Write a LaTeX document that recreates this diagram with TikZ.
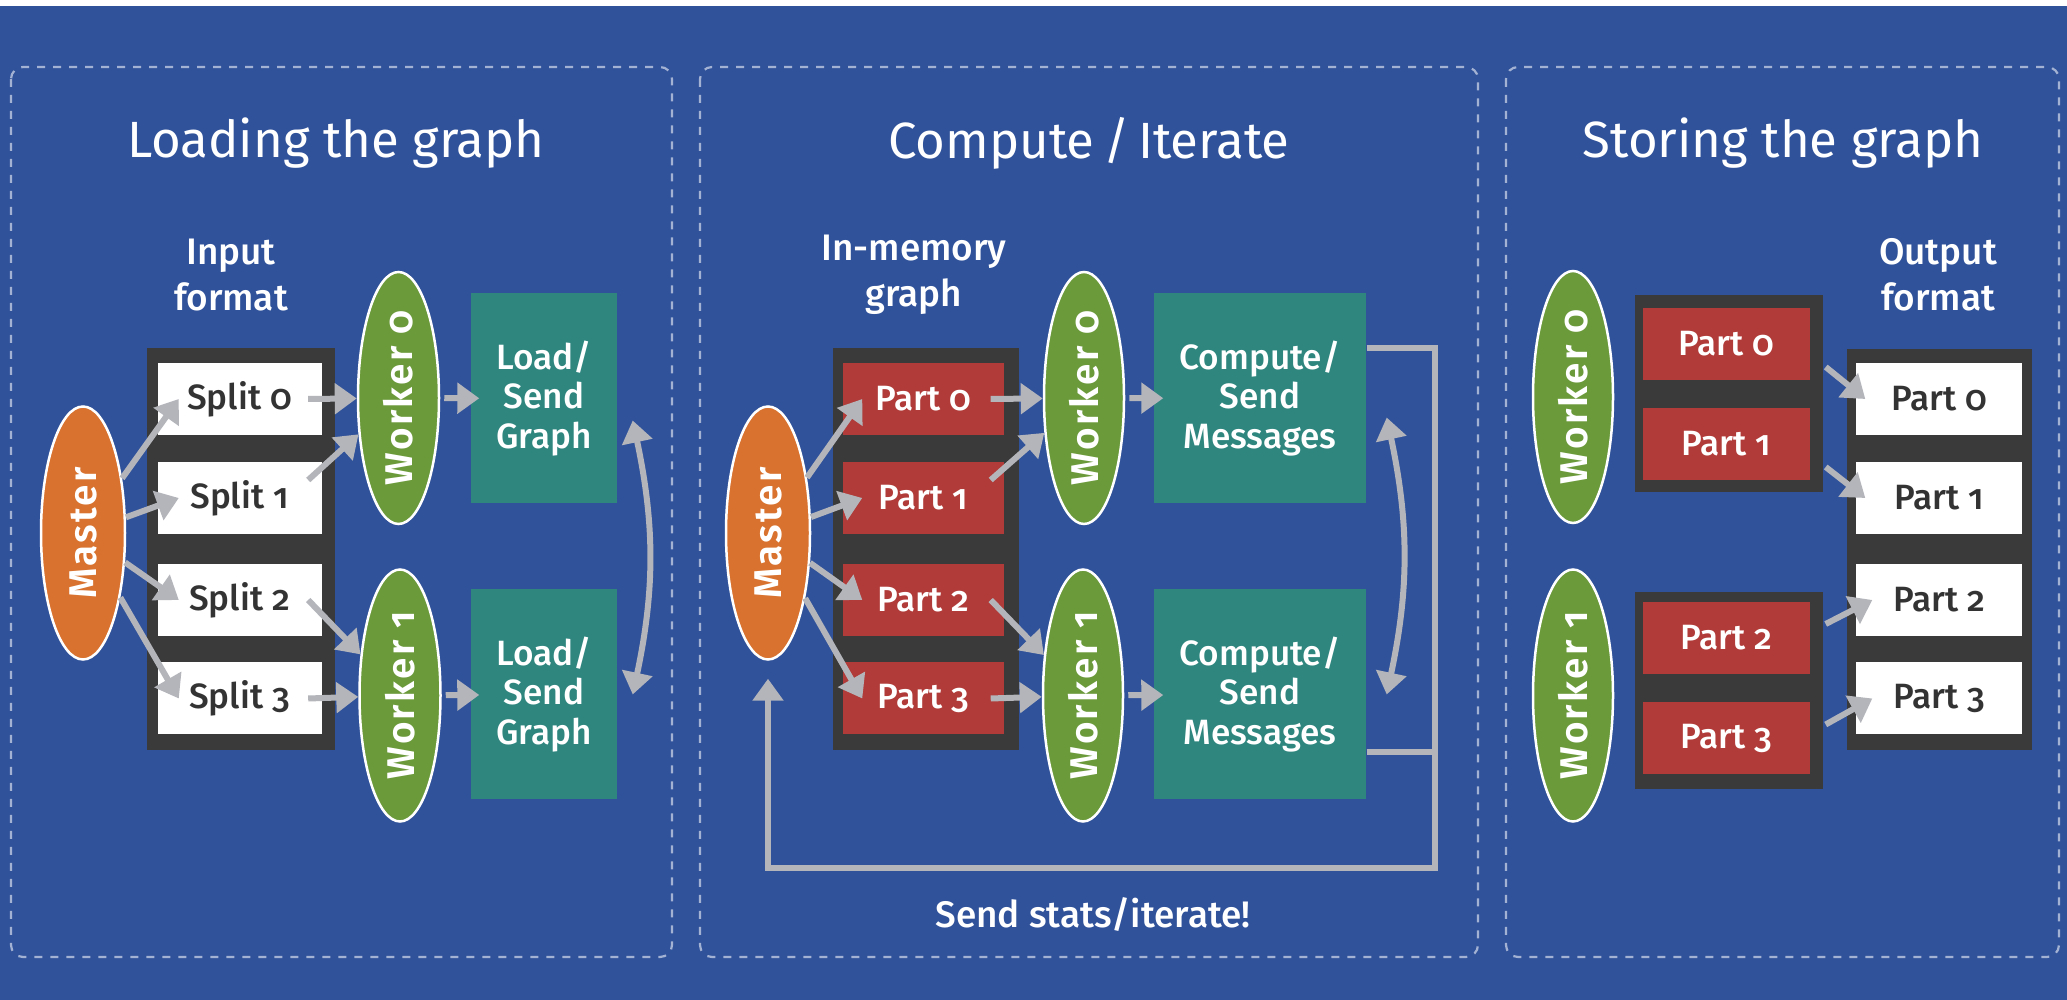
\documentclass[tikz,border=0pt]{standalone}
\usepackage{fontspec}
\setmainfont{Fira Sans}[Numbers=OldStyle, UprightFont={Fira Sans Medium}, BoldFont={Fira Sans SemiBold}]
\newfontfamily\ovalfont{Fira Sans SemiBold}[Numbers=OldStyle, LetterSpace=6]
\newfontfamily\headfont{Fira Sans}[Numbers=OldStyle]
\usepackage{tikz}
\usetikzlibrary{arrows.meta}
\usetikzlibrary{shapes.geometric}
\definecolor{eBg}{HTML}{30529A}
\definecolor{ePanel}{HTML}{A3B2D3}
\definecolor{eOrange}{HTML}{D8722E}
\definecolor{eGreen}{HTML}{6B9A3B}
\definecolor{eTeal}{HTML}{2F867F}
\definecolor{eRed}{HTML}{B03B38}
\definecolor{eFrame}{HTML}{3A3A3A}
\definecolor{eGray}{HTML}{B3B5BB}
\definecolor{eText}{HTML}{333333}
\tikzset{mst/.style={ellipse, draw=white, line width=0.25mm, fill=eOrange, text=white,
  font=\ovalfont\fontsize{11}{12}\selectfont, inner sep=0pt,
  minimum width=25.3mm, minimum height=8.4mm, rotate=90}}
\tikzset{wrk/.style={mst, fill=eGreen, minimum width=25.2mm, minimum height=8.1mm}}
\tikzset{spl/.style={rectangle, fill=white, text=eText, inner sep=0pt,
  minimum width=16.4mm, minimum height=7.2mm, font=\fontsize{10}{12}\selectfont}}
\tikzset{prt/.style={spl, fill=eRed, text=white}}
\tikzset{cmp/.style={rectangle, fill=eTeal, text=white, inner sep=0pt, align=center,
  minimum height=21mm, font=\fontsize{10}{11.3}\selectfont}}
\tikzset{frm/.style={rectangle, fill=eFrame, inner sep=0pt}}
\tikzset{ar/.style={draw, line width=0.6mm, eGray, -{Triangle[length=2.2mm,width=3mm]}}}
\tikzset{ar2/.style={ar, {Triangle[length=2.2mm,width=3mm]}-{Triangle[length=2.2mm,width=3mm]}}}
\tikzset{ln/.style={draw, line width=0.6mm, eGray}}
\tikzset{pnl/.style={draw=ePanel, line width=0.22mm, dash pattern=on 0.8mm off 0.8mm,
  rounded corners=1.2mm}}
\tikzset{ttl/.style={text=white, font=\headfont\fontsize{14.5}{16}\selectfont}}
\tikzset{lbl/.style={text=white, align=center, font=\fontsize{10.5}{13}\selectfont}}

\begin{document}
\begin{tikzpicture}[x=1mm,y=-1mm]
        \useasboundingbox (0,0) rectangle (206.7,100);
        \fill[white] (0,0) rectangle (206.7,0.6);
        \fill[eBg] (0,0.6) rectangle (206.7,100);
        %% Loading the graph
        \draw [pnl] (1.1,6.7) rectangle (67.2,95.7);
        \node (t1) at (33.6,14.3) [ttl] {Loading the graph};
        \node (h1) at (23.1,27.5) [lbl] {Input\\format};
        \node (fin) at (24.1,54.9) [frm, minimum width=18.8mm, minimum height=40.2mm] {};
        \node (s0) at (23.95,39.9) [spl] {Split 0};
        \node (s1) at (23.95,49.8) [spl] {Split 1};
        \node (s2) at (23.95,60.0) [spl] {Split 2};
        \node (s3) at (23.95,69.85) [spl] {Split 3};
        \node (m1) at (8.3,53.3) [mst] {Master};
        \node (w10) at (39.85,39.8) [wrk] {Worker 0};
        \node (w11) at (40,69.55) [wrk] {Worker 1};
        \node (l0) at (54.4,39.85) [cmp, minimum width=14.6mm] {Load/\\Send\\Graph};
        \node (l1) at (54.4,69.45) [cmp, minimum width=14.6mm] {Load/\\Send\\Graph};
        \draw [ar] (m1) to ([xshift=2.2mm]s0.west); \draw [ar] (m1) to ([xshift=2.2mm]s1.west);
        \draw [ar] (m1) to ([xshift=2.2mm]s2.west); \draw [ar] (m1) to ([xshift=2.2mm]s3.west);
        \draw [ar] ([xshift=-1.4mm]s0.east) to (w10); \draw [ar] ([shift={(-1.4mm,1.8mm)}]s1.east) to (w10);
        \draw [ar] ([xshift=-1.4mm]s2.east) to (w11); \draw [ar] ([xshift=-1.4mm]s3.east) to (w11);
        \draw [ar, shorten <=0.4mm, shorten >=-0.9mm] (w10) to (l0);
        \draw [ar, shorten <=0.4mm, shorten >=-0.9mm] (w11) to (l1);
        \draw [ar2] ([shift={(1.5mm,-2.2mm)}]l0.east) to[bend left=12] ([xshift=1.5mm]l1.east);
        %% Compute / Iterate
        \draw [pnl] (70.0,6.7) rectangle (147.8,95.7);
        \node (t2) at (108.9,14.3) [ttl] {Compute\,/\,Iterate};
        \node (h2) at (91.4,27.5) [lbl] {In-memory\\graph};
        \node (fmem) at (92.6,54.9) [frm, minimum width=18.6mm, minimum height=40.2mm] {};
        \node (p0) at (92.35,39.9) [prt, minimum width=16.1mm] {Part 0};
        \node (p1) at (92.35,49.8) [prt, minimum width=16.1mm] {Part 1};
        \node (p2) at (92.35,60.0) [prt, minimum width=16.1mm] {Part 2};
        \node (p3) at (92.35,69.85) [prt, minimum width=16.1mm] {Part 3};
        \node (m2) at (76.8,53.3) [mst] {Master};
        \node (w20) at (108.4,39.8) [wrk, minimum height=8mm] {Worker 0};
        \node (w21) at (108.3,69.55) [wrk, minimum height=8mm] {Worker 1};
        \node (c0) at (126.0,39.85) [cmp, minimum width=21.2mm] {Compute/\\Send\\Messages};
        \node (c1) at (126.0,69.45) [cmp, minimum width=21.2mm] {Compute/\\Send\\Messages};
        \coordinate (loop) at (143.5,86.8);
        \node (st) at (109.3,91.5) [lbl] {Send stats/iterate!};
        \draw [ar] (m2) to ([xshift=2mm]p0.west); \draw [ar] (m2) to ([xshift=2mm]p1.west);
        \draw [ar] (m2) to ([xshift=2mm]p2.west); \draw [ar] (m2) to ([xshift=2mm]p3.west);
        \draw [ar] ([xshift=-1.4mm]p0.east) to (w20); \draw [ar] ([shift={(-1.4mm,1.8mm)}]p1.east) to (w20);
        \draw [ar] ([xshift=-1.4mm]p2.east) to (w21); \draw [ar] ([xshift=-1.4mm]p3.east) to (w21);
        \draw [ar, shorten <=0.4mm, shorten >=-1mm] (w20) to (c0);
        \draw [ar, shorten <=0.4mm, shorten >=-1mm] (w21) to (c1);
        \draw [ar2] ([shift={(2mm,-1.9mm)}]c0.east) to[bend left=12] ([xshift=2mm]c1.east);
        \draw [ar, shorten >=1.8mm] ([yshift=5mm]c0.east) -| (loop) -| (m2.west);
        \draw [ln] ([yshift=-5.8mm]c1.east) -| (loop);
        %% Storing the graph
        \draw [pnl] (150.6,6.7) rectangle (205.9,95.7);
        \node (t3) at (178.3,14.3) [ttl] {Storing the graph};
        \node (h3) at (193.8,27.5) [lbl] {Output\\format};
        \node (w30) at (157.3,39.7) [wrk, minimum height=8mm] {Worker 0};
        \node (w31) at (157.3,69.55) [wrk, minimum height=8mm] {Worker 1};
        \node (fo1) at (172.9,39.35) [frm, minimum width=18.8mm, minimum height=19.7mm] {};
        \node (fo2) at (172.9,69.05) [frm, minimum width=18.8mm, minimum height=19.7mm] {};
        \node (q0) at (172.65,34.4) [prt, minimum width=16.7mm] {Part 0};
        \node (q1) at (172.65,44.4) [prt, minimum width=16.7mm] {Part 1};
        \node (q2) at (172.65,63.8) [prt, minimum width=16.7mm] {Part 2};
        \node (q3) at (172.65,73.85) [prt, minimum width=16.7mm] {Part 3};
        \node (fout) at (193.95,54.95) [frm, minimum width=18.5mm, minimum height=40.1mm] {};
        \node (o0) at (193.9,39.9) [spl, minimum width=16.6mm] {Part 0};
        \node (o1) at (193.9,49.8) [spl, minimum width=16.6mm] {Part 1};
        \node (o2) at (193.9,60.0) [spl, minimum width=16.6mm] {Part 2};
        \node (o3) at (193.9,69.85) [spl, minimum width=16.6mm] {Part 3};
        \draw [ar] ([shift={(1.5mm,-2.3mm)}]q0.east) to ([xshift=1mm]o0.west);
        \draw [ar] ([shift={(1.5mm,-2.3mm)}]q1.east) to ([xshift=1mm]o1.west);
        \draw [ar] ([shift={(1.5mm,1.4mm)}]q2.east) to ([xshift=1.7mm]o2.west);
        \draw [ar] ([shift={(1.5mm,1.4mm)}]q3.east) to ([xshift=1.7mm]o3.west);
\end{tikzpicture}
\end{document}
